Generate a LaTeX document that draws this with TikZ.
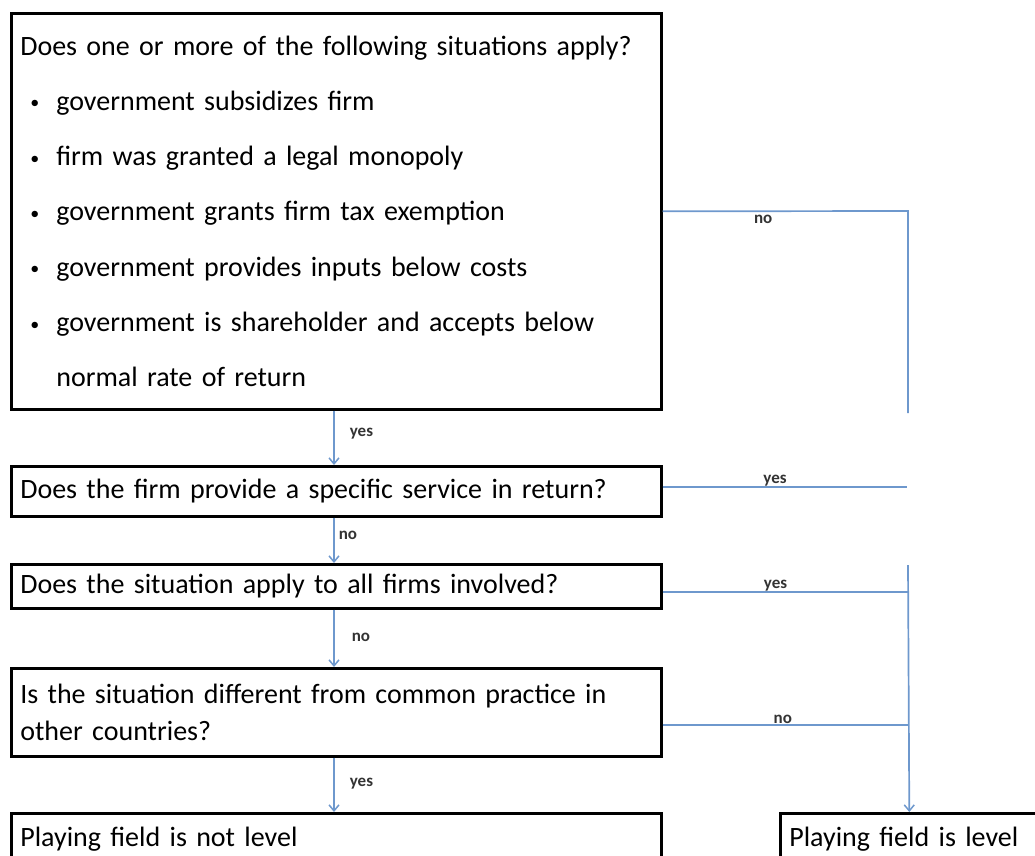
\documentclass[tikz,border=0pt]{standalone}
\usepackage{fontspec}
\setmainfont{Carlito}
\usetikzlibrary{arrows.meta}
\definecolor{conn}{RGB}{110,152,205}
\newcommand{\blt}{\makebox[36pt][l]{\hspace{10pt}{\fontsize{18}{18}\selectfont\raisebox{1.5pt}{•}}}}
\tikzset{
  qbox/.style={draw=black, line width=2.6pt, rectangle, anchor=north west, inner xsep=9pt, inner ysep=0pt,
    align=left, font=\fontsize{28}{37}\selectfont},
  link/.style={draw=conn, line width=1.7pt},
  arr/.style={link, -{Straight Barb[length=6pt,width=10pt,line width=1.5pt]}},
  lbl/.style={font=\fontsize{17}{18}\selectfont\bfseries, text=black!80, inner sep=0pt},
  vlbl/.style={lbl, anchor=west}
}
\begin{document}
\begin{tikzpicture}[x=1pt,y=-1pt]
\clip (0,0) rectangle (1035,855);
% boxes
\node[qbox, minimum width=650pt, minimum height=396pt, text width=632pt, font=\fontsize{28}{55.3}\selectfont] (b1) at (10,12)
 {Does one or more of the following situations apply?\\
  \blt government subsidizes firm\\
  \blt firm was granted a legal monopoly\\
  \blt government grants firm tax exemption\\
  \blt government provides inputs below costs\\
  \blt government is shareholder and accepts below\\
  \hspace{36pt}normal rate of return};
\node[qbox, minimum width=650pt, minimum height=50pt, text width=632pt] (b2) at (10,465)
 {Does the firm provide a specific service in return?};
\node[qbox, minimum width=650pt, minimum height=44pt, text width=632pt] (b3) at (10,563)
 {Does the situation apply to all firms involved?};
\node[qbox, minimum width=650pt, minimum height=88pt, text width=632pt] (b4) at (10,667)
 {Is the situation different from common practice in\\other countries?};
\node[qbox, minimum width=650pt, minimum height=52pt, text width=632pt] (b5) at (10,812)
 {Playing field is not level};
\node[qbox, minimum width=258pt, minimum height=52pt, text width=240pt] (b6) at (779,812)
 {Playing field is level};
% vertical arrows
\draw[arr] (b1.south -| 334,0) -- node[vlbl, xshift=15pt, pos=0.42] {yes} (b2.north -| 334,0);
\draw[arr] (b2.south -| 334,0) -- node[vlbl, xshift=4pt, pos=0.40] {no} (b3.north -| 334,0);
\draw[arr] (b3.south -| 334,0) -- node[vlbl, xshift=17pt, pos=0.48] {no} (b4.north -| 334,0);
\draw[arr] (b4.south -| 334,0) -- node[vlbl, xshift=15pt, pos=0.48] {yes} (b5.north -| 334,0);
% right side
\coordinate (r1) at (908,211);
\coordinate (r1e) at (908,413);
\coordinate (r2) at (907,487);
\coordinate (r3) at (908,592);
\coordinate (r3t) at (908,565);
\coordinate (r4) at (908,725);
\draw[link] (b1.east) -- node[lbl, below=3pt, pos=0.41] {no} (r1) -- (r1e);
\draw[link] (b2.east |- r2) -- node[lbl, above=0pt, pos=0.46] {yes} (r2);
\draw[link] (b3.east |- r3) -- node[lbl, above=0pt, pos=0.46] {yes} (r3);
\draw[link] (b4.east |- r4) -- node[lbl, above=1pt, pos=0.49] {no} (r4);
\draw[arr] (r3t) -- (b6.north);
\end{tikzpicture}
\end{document}
